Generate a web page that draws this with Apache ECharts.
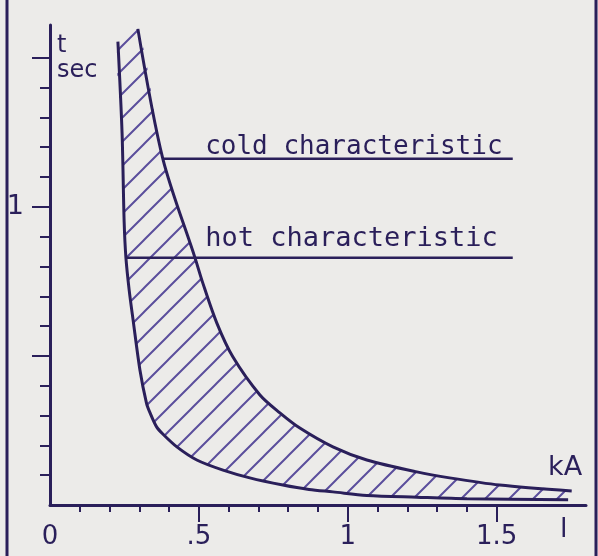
<!DOCTYPE html>
<html>
<head>
<meta charset="utf-8">
<script src="https://cdn.jsdelivr.net/npm/echarts@6.0.0/dist/echarts.min.js"></script>
<style>
html,body{margin:0;padding:0;background:#ecebe9;}
#chart{width:598px;height:556px;}
</style>
</head>
<body>
<div id="chart"></div>
<script>
// ---- data (kA, sec) ----
const innerCurve = [[0.228,1.554],[0.242,1.248],[0.249,0.950],[0.255,0.829],[0.266,0.720],[0.279,0.621],[0.302,0.453],[0.324,0.342],[0.336,0.309],[0.358,0.262],[0.379,0.238],[0.426,0.195],[0.493,0.151],[0.581,0.117],[0.671,0.091],[0.782,0.067],[0.870,0.052],[0.950,0.044],[1.064,0.032],[1.232,0.026],[1.400,0.021],[1.740,0.018]];
const outerCurve = [[0.295,1.597],[0.379,1.161],[0.487,0.829],[0.513,0.745],[0.560,0.611],[0.614,0.497],[0.705,0.369],[0.772,0.309],[0.839,0.258],[0.950,0.195],[1.064,0.151],[1.232,0.111],[1.342,0.091],[1.510,0.067],[1.752,0.047]];
const coldLine = [[0.379,1.161],[1.554,1.161]];
const hotLine = [[0.255,0.829],[1.554,0.829]];
const annotations = [[0.521,1.200,'cold characteristic'],[0.521,0.891,'hot characteristic']];
const xMajorTicks = [0.5,1,1.5];
const xMinorTicks = [0.1,0.2,0.3,0.4,0.6,0.7,0.8,0.9,1.1,1.2,1.3,1.4];
const xTickLabels = [0,0.5,1,1.5];
const xLabelText = {'0':'0','0.5':'.5','1':'1','1.5':'1.5'};
const yMajorTicks = [0.5,1,1.5];
const yMinorTicks = [0.1,0.2,0.3,0.4,0.6,0.7,0.8,0.9,1.1,1.2,1.3,1.4];
const yTickLabels = [1];

const ink = '#2a1f5a';
const hatchInk = '#5b4e9c';
const annotationSizes = [26, 27];

function makeHatch(){
  const c = document.createElement('canvas');
  c.width = 24; c.height = 24;
  const g = c.getContext('2d');
  g.strokeStyle = hatchInk; g.lineWidth = 2;
  g.beginPath();
  g.moveTo(-2,26); g.lineTo(26,-2);
  g.moveTo(-2,2); g.lineTo(2,-2);
  g.moveTo(22,26); g.lineTo(26,22);
  g.stroke();
  return c;
}
const hatch = makeHatch();

const chart = echarts.init(document.getElementById('chart'));
const baseX = {type:'value', min:0, max:1.8, position:'bottom', splitLine:{show:false}};
const baseY = {type:'value', min:0, max:1.61, position:'left', splitLine:{show:false}};
chart.setOption({
  animation:false,
  backgroundColor:'#ecebe9',
  grid:{left:50, right:12, top:25, bottom:51},
  xAxis:[
    Object.assign({}, baseX, {
      name:'kA', nameLocation:'end', nameGap:-38,
      nameTextStyle:{align:'left', verticalAlign:'bottom', fontSize:27, color:ink, fontFamily:'DejaVu Sans', padding:[0,0,24,0]},
      axisLine:{show:true, lineStyle:{color:ink, width:3}},
      axisTick:{show:true, customValues:xMinorTicks, length:7, lineStyle:{color:ink, width:2}},
      axisLabel:{show:true, customValues:xTickLabels, margin:19, fontSize:26, color:ink, fontFamily:'DejaVu Sans',
        formatter:v=>xLabelText[String(v)] ?? String(v)}
    }),
    Object.assign({}, baseX, {
      axisLine:{show:false},
      axisTick:{show:true, customValues:xMajorTicks, length:17, lineStyle:{color:ink, width:2}},
      axisLabel:{show:false}
    })
  ],
  yAxis:[
    Object.assign({}, baseY, {
      name:'t\nsec', nameLocation:'end', nameGap:-8,
      nameTextStyle:{align:'left', verticalAlign:'top', fontSize:24, lineHeight:25, color:ink, fontFamily:'DejaVu Sans', padding:[0,0,0,7]},
      axisLine:{show:true, lineStyle:{color:ink, width:3}},
      axisTick:{show:true, customValues:yMinorTicks, length:10, lineStyle:{color:ink, width:2}},
      axisLabel:{show:true, customValues:yTickLabels, margin:26, fontSize:27, color:ink, fontFamily:'DejaVu Sans'}
    }),
    Object.assign({}, baseY, {
      axisLine:{show:false},
      axisTick:{show:true, customValues:yMajorTicks, length:18, lineStyle:{color:ink, width:2}},
      axisLabel:{show:false}
    })
  ],
  series:[
    {
      type:'custom', xAxisIndex:0, yAxisIndex:0, data:[0], silent:true, z:1,
      renderItem:(params, api)=>{
        const pts = innerCurve.map(p=>api.coord(p)).concat(outerCurve.slice().reverse().map(p=>api.coord(p)));
        return {type:'polygon', shape:{points:pts, smooth:0.3}, style:{fill:{image:hatch, repeat:'repeat'}, stroke:null}};
      }
    },
    {type:'line', data:innerCurve, smooth:0.3, showSymbol:false, z:3, lineStyle:{color:ink, width:3}},
    {type:'line', data:outerCurve, smooth:0.3, showSymbol:false, z:3, lineStyle:{color:ink, width:3}},
    {type:'line', data:coldLine, showSymbol:false, z:3, lineStyle:{color:ink, width:2.5}},
    {type:'line', data:hotLine, showSymbol:false, z:3, lineStyle:{color:ink, width:2.5}},
    {
      type:'scatter', symbolSize:0, z:4, itemStyle:{opacity:1},
      data:annotations.map((a,i)=>({value:a, label:{fontSize:annotationSizes[i]}})),
      label:{show:true, position:[0,0], align:'left', verticalAlign:'middle', formatter:p=>p.value[2],
        fontFamily:'DejaVu Sans Mono', fontSize:26, color:ink, opacity:1}
    }
  ],
  graphic:[
    {type:'line', shape:{x1:7, y1:0, x2:7, y2:556}, style:{stroke:ink, lineWidth:3}},
    {type:'line', shape:{x1:596, y1:0, x2:596, y2:556}, style:{stroke:ink, lineWidth:3}},
    {type:'text', left:560, top:516, style:{text:'l', fontSize:27, fill:ink, fontFamily:'DejaVu Sans'}}
  ]
});
</script>
</body>
</html>
